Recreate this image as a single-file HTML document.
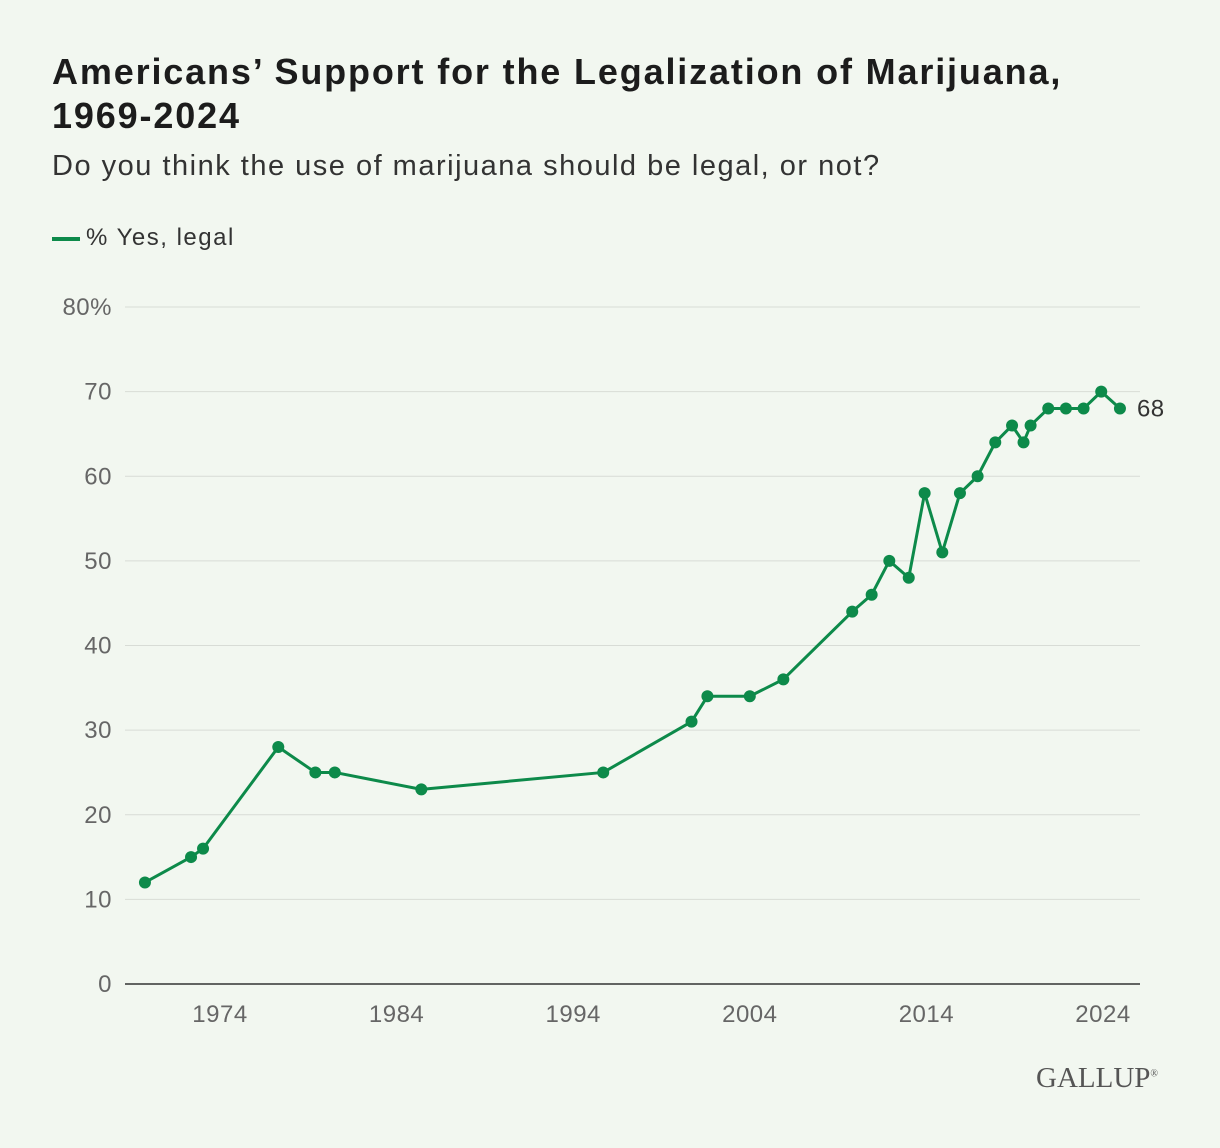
<!DOCTYPE html>
<html><head><meta charset="utf-8"><style>
body{margin:0;background:#f2f7f0;font-family:"Liberation Sans",sans-serif;}
#wrap{position:relative;width:1220px;height:1148px;background:#f2f7f0;}
h1{position:absolute;left:52px;top:50px;margin:0;font-size:36px;line-height:44px;font-weight:bold;color:#1c1c1c;width:1160px;letter-spacing:1.85px;}
.sub{position:absolute;left:52px;top:150px;font-size:29px;color:#333;letter-spacing:1.5px;}
.leg{position:absolute;left:52px;top:224px;font-size:24px;color:#333;letter-spacing:1.5px;}
.leg span.sw{display:inline-block;width:28px;height:4px;background:#0d8a4a;vertical-align:middle;margin-right:6px;}
.logo{position:absolute;left:1036px;top:1062px;font-family:"Liberation Serif",serif;font-size:29px;color:#555;}
svg{position:absolute;left:0;top:0;}
</style></head><body>
<div id="wrap">
<h1>Americans’ Support for the Legalization of Marijuana,<br>1969-2024</h1>
<div class="sub">Do you think the use of marijuana should be legal, or not?</div>
<div class="leg"><span class="sw"></span>% Yes, legal</div>
<svg id="chart" width="1220" height="1148"></svg>
<div class="logo">GALLUP<sup style="font-size:10px">®</sup></div>
</div>
<script>
const years=[1969.75,1972.36,1973.04,1977.3,1979.4,1980.5,1985.4,1995.7,2000.7,2001.6,2004.0,2005.9,2009.8,2010.9,2011.9,2013.0,2013.9,2014.9,2015.9,2016.9,2017.9,2018.85,2019.5,2019.9,2020.9,2021.9,2022.9,2023.9,2024.96];
const values=[12,15,16,28,25,25,23,25,31,34,34,36,44,46,50,48,58,51,58,60,64,66,64,66,68,68,68,70,68];
const yTicks=[0,10,20,30,40,50,60,70,80];
const xTicks=[1974,1984,1994,2004,2014,2024];
const NS="http://www.w3.org/2000/svg";
const svg=document.getElementById('chart');
function xs(v){return 220+(v-1974)*17.66;}
function ys(v){return 984-v*8.4625;}
function mk(t,a){const e=document.createElementNS(NS,t);for(const k in a)e.setAttribute(k,a[k]);svg.appendChild(e);return e;}
yTicks.forEach(t=>{
  const l=mk('line',{x1:125,x2:1140,y1:ys(t),y2:ys(t),stroke:t===0?'#333':'#d8dcd6','stroke-width':t===0?1.5:1});
  
  
  const tx=mk('text',{x:112,y:ys(t)+8,'text-anchor':'end','font-size':24,'letter-spacing':0.5,fill:'#666','font-family':'Liberation Sans, sans-serif'});
  tx.textContent=t===80?'80%':t;
  
  
});
xTicks.forEach(t=>{
  const tx=mk('text',{x:xs(t),y:1022,'text-anchor':'middle','font-size':24,'letter-spacing':0.5,fill:'#666','font-family':'Liberation Sans, sans-serif'});
  tx.textContent=t;
  
  
});
const pts=years.map((y,i)=>xs(y)+','+ys(values[i])).join(' ');
const pl=mk('polyline',{points:pts,fill:'none',stroke:'#0d8a4a','stroke-width':3,'stroke-linejoin':'round'});


years.forEach((y,i)=>{
  const c=mk('circle',{cx:xs(y),cy:ys(values[i]),r:6,fill:'#0d8a4a'});
  
  
});
const n=values.length-1;
const lb=mk('text',{x:xs(years[n])+17,y:ys(values[n])+8,'font-size':24,'letter-spacing':0.5,fill:'#333','font-family':'Liberation Sans, sans-serif'});
lb.textContent=values[n];


</script>
</body></html>
